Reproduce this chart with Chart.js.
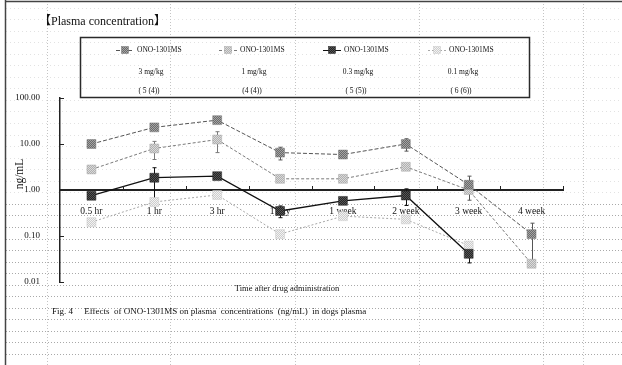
<!DOCTYPE html>
<html>
<head>
<meta charset="utf-8">
<script src="https://cdn.jsdelivr.net/npm/chart.js@4/dist/chart.umd.min.js"></script>
<style>
  html, body { margin: 0; padding: 0; background: #fff; }
  #wrap { width: 622px; height: 365px; }
</style>
</head>
<body>
<div id="wrap"><canvas id="c" width="622" height="365"></canvas></div>
<script>
// Sampling times after dosing
const categories = ['0.5 hr', '1 hr', '3 hr', '1 day', '1 week', '2 week', '3 week', '4 week'];

// Legend texts per dose group
const drugNames = ['ONO-1301MS', 'ONO-1301MS', 'ONO-1301MS', 'ONO-1301MS'];
const doses = ['3 mg/kg', '1 mg/kg', '0.3 mg/kg', '0.1 mg/kg'];
const animalCounts = ['( 5 (4))', '(4 (4))', '( 5 (5))', '( 6 (6))'];

// Mean plasma concentrations (ng/mL)
const conc3mg  = [10, 23, 33, 6.5, 5.9, 10, 1.3, 0.11];
const conc1mg  = [2.8, 8.0, 12.5, 1.75, 1.75, 3.2, 1.0, 0.025];
const conc03mg = [0.75, 1.85, 2.0, 0.35, 0.58, 0.76, 0.041, null];
const conc01mg = [0.2, 0.55, 0.78, 0.11, 0.27, 0.23, 0.062, null];

// Standard deviations (ng/mL), null where no bar is shown
const sd3mg  = [null, null, null, 2.0, null, 3.0, 0.7, 0.08];
const sd1mg  = [null, 3.4, 6.0, null, null, null, null, null];
const sd03mg = [null, 1.2, null, 0.1, null, 0.3, 0.015, null];
const sd01mg = [null, null, null, null, null, null, null, null];

// Y axis tick values
const yTicks = [0.01, 0.1, 1, 10, 100];

const SERIF = '"Liberation Serif", "Times New Roman", serif';

const canvas = document.getElementById('c');
const ctx0 = canvas.getContext('2d');

function grain(c1, c2) {
  const p = document.createElement('canvas');
  p.width = 2; p.height = 2;
  const g = p.getContext('2d');
  g.fillStyle = c1; g.fillRect(0, 0, 2, 2);
  g.fillStyle = c2; g.fillRect(0, 0, 1, 1); g.fillRect(1, 1, 1, 1);
  return ctx0.createPattern(p, 'repeat');
}

const styles = [
  { line: '#555555', dash: [4, 2], width: 1,   fill: grain('#6a6a6a', '#a4a4a4'), edge: '#777' },
  { line: '#7a7a7a', dash: [3, 2], width: 1,   fill: grain('#b0b0b0', '#dadada'), edge: '#aaa' },
  { line: '#111111', dash: [],     width: 1.3, fill: grain('#262626', '#555555'), edge: '#222' },
  { line: '#a8a8a8', dash: [2, 2], width: 1,   fill: grain('#cdcdcd', '#f2f2f2'), edge: '#c8c8c8' }
];

const seriesValues = [conc3mg, conc1mg, conc03mg, conc01mg];
const seriesSd = [sd3mg, sd1mg, sd03mg, sd01mg];

const datasets = seriesValues.map((vals, i) => ({
  label: drugNames[i] + ' ' + doses[i],
  data: vals,
  borderColor: styles[i].line,
  borderDash: styles[i].dash,
  borderWidth: styles[i].width,
  pointStyle: 'rect',
  pointRadius: 6.3,
  pointBackgroundColor: styles[i].fill,
  pointBorderColor: styles[i].edge,
  pointBorderWidth: 0.5,
  tension: 0,
  spanGaps: false,
  sd: seriesSd[i]
}));

// Spreadsheet-style page background, frame, titles, legend
const pagePlugin = {
  id: 'page',
  beforeDraw(chart) {
    const c = chart.ctx;
    c.save();
    c.fillStyle = '#fff';
    c.fillRect(0, 0, chart.width, chart.height);
    c.lineWidth = 1;
    // cell rows
    for (let y = 7.5; y < chart.height; y += 11.55) {
      const lower = y > 195;
      c.strokeStyle = lower ? '#a9a9a9' : '#e2e2e2';
      c.setLineDash(lower ? [1, 2] : [1, 3]);
      c.beginPath();
      c.moveTo(6, Math.round(y) + 0.5);
      c.lineTo(chart.width, Math.round(y) + 0.5);
      c.stroke();
    }
    // cell columns
    [47, 170, 295, 419, 543, 583].forEach(x => {
      c.strokeStyle = '#c4c4c4';
      c.setLineDash([1, 2]);
      c.beginPath();
      c.moveTo(x + 0.5, 4);
      c.lineTo(x + 0.5, chart.height);
      c.stroke();
    });
    c.setLineDash([]);
    // frame
    c.strokeStyle = '#444';
    c.lineWidth = 1.5;
    c.beginPath();
    c.moveTo(5.5, 0); c.lineTo(5.5, chart.height);
    c.moveTo(5, 1.5); c.lineTo(chart.width, 1.5);
    c.stroke();
    c.restore();
  },
  beforeDatasetsDraw(chart) {
    const c = chart.ctx;
    const ys = chart.scales.y, xs = chart.scales.x;
    c.save();
    chart.data.datasets.forEach((ds, i) => {
      const sd = ds.sd || [];
      c.strokeStyle = ds.borderColor;
      c.lineWidth = 1;
      ds.data.forEach((v, j) => {
        if (v == null || sd[j] == null) return;
        const x = Math.round(xs.getPixelForValue(j)) + 0.5;
        const top = ys.getPixelForValue(v + sd[j]);
        const lowV = Math.max(v - sd[j], 0.011);
        const bot = ys.getPixelForValue(lowV);
        c.beginPath();
        c.moveTo(x, top); c.lineTo(x, bot);
        c.moveTo(x - 2, top); c.lineTo(x + 2, top);
        c.moveTo(x - 2, bot); c.lineTo(x + 2, bot);
        c.stroke();
      });
    });
    c.restore();
  },
  afterDraw(chart) {
    const c = chart.ctx;
    const ys = chart.scales.y, xs = chart.scales.x;
    const area = chart.chartArea;
    c.save();
    // inward tick marks
    c.strokeStyle = '#222';
    c.lineWidth = 1;
    yTicks.forEach(v => {
      const y = Math.round(ys.getPixelForValue(v)) + 0.5;
      c.beginPath(); c.moveTo(area.left, y); c.lineTo(area.left + 4, y); c.stroke();
    });
    const step = (area.right - area.left) / categories.length;
    const axisY = ys.getPixelForValue(1);
    for (let k = 1; k <= categories.length; k++) {
      const x = Math.round(area.left + k * step) + 0.5;
      c.beginPath(); c.moveTo(x, axisY); c.lineTo(x, axisY - 4); c.stroke();
    }

    c.fillStyle = '#111';
    c.textBaseline = 'middle';

    // heading
    c.textAlign = 'left';
    c.font = '12px ' + SERIF.replace('serif', '"Noto Sans CJK JP", serif');
    c.fillText('【Plasma concentration】', 39, 22);

    // y axis title
    c.save();
    c.translate(20, 174);
    c.rotate(-Math.PI / 2);
    c.textAlign = 'center';
    c.font = '11.5px ' + SERIF;
    c.fillText('ng/mL', 0, 0);
    c.restore();

    // x axis title
    c.textAlign = 'center';
    c.font = '8.5px ' + SERIF;
    c.fillText('Time after drug administration', 287, 289);

    // caption
    c.textAlign = 'left';
    c.font = '9px ' + SERIF;
    c.fillText('Fig. 4     Effects  of ONO-1301MS on plasma  concentrations  (ng/mL)  in dogs plasma', 52, 312);

    // legend box
    c.strokeStyle = '#2a2a2a';
    c.lineWidth = 1.5;
    c.strokeRect(80.5, 37.5, 449, 60);
    const colX = [125, 228, 332, 437];
    chart.data.datasets.forEach((ds, i) => {
      const mx = colX[i], my = 50;
      c.strokeStyle = ds.borderColor;
      c.lineWidth = 1;
      c.setLineDash(ds.borderDash);
      c.beginPath(); c.moveTo(mx - 9, my + 0.5); c.lineTo(mx + 9, my + 0.5); c.stroke();
      c.setLineDash([]);
      c.fillStyle = ds.pointBackgroundColor;
      c.fillRect(mx - 3.5, my - 3.5, 7, 7);
      c.strokeStyle = ds.pointBorderColor;
      c.lineWidth = 0.5;
      c.strokeRect(mx - 3.5, my - 3.5, 7, 7);
      c.fillStyle = '#111';
      c.font = '7.5px ' + SERIF;
      c.textAlign = 'left';
      c.fillText(drugNames[i], mx + 12, my);
      c.textAlign = 'center';
      c.fillText(doses[i], mx + 26, 72);
      c.fillText(animalCounts[i], mx + 24, 91);
    });
    c.restore();
  }
};

new Chart(canvas, {
  type: 'line',
  data: { labels: categories, datasets },
  options: {
    responsive: false,
    animation: false,
    devicePixelRatio: 1,
    layout: { padding: { left: 0, top: 98, right: 59, bottom: 83 } },
    plugins: { legend: { display: false }, tooltip: { enabled: false }, title: { display: false } },
    scales: {
      x: {
        type: 'category',
        offset: true,
        position: { y: 1 },
        grid: { display: false },
        border: { display: true, color: '#222', width: 2 },
        ticks: { color: '#111', font: { family: SERIF, size: 9.5 }, padding: 8, maxRotation: 0, autoSkip: false }
      },
      y: {
        type: 'logarithmic',
        position: 'left',
        min: 0.01,
        max: 100,
        afterFit: s => { s.width = 60; },
        afterBuildTicks: s => { s.ticks = yTicks.map(v => ({ value: v })); },
        grid: { display: false },
        border: { display: true, color: '#222', width: 1.5 },
        ticks: {
          color: '#111',
          font: { family: SERIF, size: 9 },
          padding: 12,
          autoSkip: false,
          callback: v => Number(v).toFixed(2)
        }
      }
    }
  },
  plugins: [pagePlugin]
});
</script>
</body>
</html>
